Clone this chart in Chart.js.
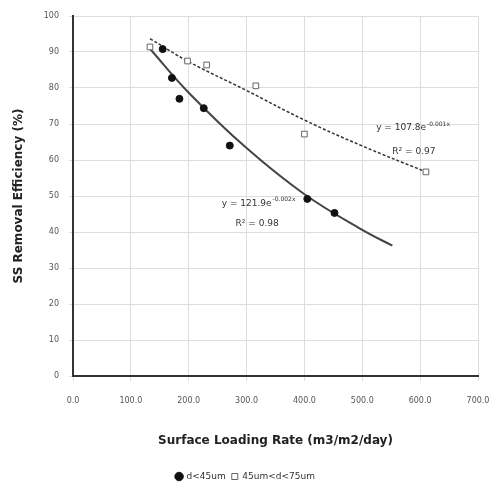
<!DOCTYPE html>
<html>
<head>
    <meta charset="UTF-8">
    <title>SS Removal Efficiency</title>
    <script src="https://cdn.jsdelivr.net/npm/chart.js@4.4.1/dist/chart.umd.min.js"></script>
    <style>
        body { margin: 0; background: #fff; }
        #wrap { width: 491px; height: 485px; }
    </style>
</head>
<body>
    <div id="wrap"><canvas id="myChart" width="491" height="485"></canvas></div>
    <script type="text/javascript">
        // measured points, d<45um (filled circles)
        var fineX = [155, 171, 184, 226, 271, 405, 452];
        var fineY = [90.8, 82.8, 77.0, 74.4, 64.0, 49.2, 45.3];

        // measured points, 45um<d<75um (open squares)
        var coarseX = [133, 198, 231, 316, 400, 610];
        var coarseY = [91.4, 87.5, 86.4, 80.6, 67.2, 56.7];

        // points
        var fineTrendX = [133, 200, 300, 400, 500, 552];
        var fineTrendY = [90.9, 78.7, 63.3, 50.5, 40.6, 36.2];
        var coarseTrendX = [133, 200, 300, 400, 500, 610];
        var coarseTrendY = [93.7, 87.3, 79.3, 71.1, 63.9, 56.7];

        var xTicks = [0, 100, 200, 300, 400, 500, 600, 700];
        var yTicks = [0, 10, 20, 30, 40, 50, 60, 70, 80, 90, 100];

        function pairs(xs, ys) {
            var out = [];
            for (var i = 0; i < xs.length; i++) out.push({ x: xs[i], y: ys[i] });
            return out;
        }

        // trend equations written next to the curves
        var trendNotes = [
            { x: 524, y: 68.9, base: "y = 107.8e", sup: "-0.001x" },
            { x: 552, y: 62.3, base: "R\u00b2 = 0.97", sup: "" },
            { x: 257, y: 48.0, base: "y = 121.9e", sup: "-0.002x" },
            { x: 281, y: 42.3, base: "R\u00b2 = 0.98", sup: "" }
        ];

        var notesPlugin = {
            id: "notes",
            afterDatasetsDraw: function (chart) {
                var ctx = chart.ctx;
                var xs = chart.scales.x, ys = chart.scales.y;
                ctx.save();
                ctx.fillStyle = "#333";
                ctx.textBaseline = "middle";
                ctx.textAlign = "left";
                trendNotes.forEach(function (n) {
                    var px = xs.getPixelForValue(n.x);
                    var py = ys.getPixelForValue(n.y);
                    ctx.font = "9px 'DejaVu Sans'";
                    ctx.fillText(n.base, px, py);
                    if (n.sup) {
                        var w = ctx.measureText(n.base).width;
                        ctx.font = "6px 'DejaVu Sans'";
                        ctx.fillText(n.sup, px + w + 1, py - 4);
                    }
                });
                ctx.restore();
            }
        };

        new Chart("myChart", {
            type: "scatter",
            data: {
                datasets: [
                    {
                        label: "d<45um",
                        data: pairs(fineX, fineY),
                        pointStyle: "circle",
                        pointRadius: 3.5,
                        backgroundColor: "#111",
                        borderColor: "#111",
                        order: 1
                    },
                    {
                        label: "45um<d<75um",
                        data: pairs(coarseX, coarseY),
                        pointStyle: "rect",
                        pointRadius: 4,
                        backgroundColor: "#fff",
                        borderColor: "#666",
                        borderWidth: 1,
                        order: 1
                    },
                    {
                        label: "trend1",
                        type: "line",
                        data: pairs(fineTrendX, fineTrendY),
                        borderColor: "#444",
                        borderWidth: 2,
                        pointRadius: 0,
                        tension: 0.4,
                        fill: false,
                        order: 2
                    },
                    {
                        label: "trend2",
                        type: "line",
                        data: pairs(coarseTrendX, coarseTrendY),
                        borderColor: "#333",
                        borderWidth: 1.5,
                        borderDash: [3, 2],
                        pointRadius: 0,
                        tension: 0.4,
                        fill: false,
                        order: 2
                    }
                ]
            },
            options: {
                responsive: false,
                animation: false,
                layout: { padding: { left: 0, right: 0, top: 16, bottom: -6 } },
                plugins: {
                    legend: {
                        position: "bottom",
                        labels: {
                            usePointStyle: true,
                            boxWidth: 6,
                            boxHeight: 6,
                            padding: 6,
                            color: "#333",
                            font: { family: "'DejaVu Sans'", size: 9 },
                            filter: function (item) { return item.text.indexOf("trend") !== 0; }
                        }
                    },
                    tooltip: { enabled: false }
                },
                scales: {
                    x: {
                        type: "linear",
                        min: 0,
                        max: 700,
                        afterBuildTicks: function (s) { s.ticks = xTicks.map(function (v) { return { value: v }; }); },
                        afterFit: function (s) { s.height = 90; s.paddingRight = 13; },
                        ticks: {
                            color: "#555",
                            padding: 15,
                            font: { family: "'DejaVu Sans'", size: 8 },
                            callback: function (v) { return Number(v).toFixed(1); }
                        },
                        grid: { color: "#ddd", tickLength: 5 },
                        border: { color: "#333", width: 2 },
                        title: {
                            display: true,
                            text: "Surface Loading Rate (m3/m2/day)",
                            color: "#222",
                            font: { family: "'DejaVu Sans'", size: 12, weight: "bold" },
                            padding: { top: 0, bottom: 18 }
                        }
                    },
                    y: {
                        type: "linear",
                        min: 0,
                        max: 100,
                        afterBuildTicks: function (s) { s.ticks = yTicks.map(function (v) { return { value: v }; }); },
                        afterFit: function (s) { s.width = 73; },
                        ticks: {
                            color: "#555",
                            padding: 10,
                            font: { family: "'DejaVu Sans'", size: 8 }
                        },
                        grid: { color: "#ddd", tickLength: 4 },
                        border: { color: "#333", width: 2 },
                        title: {
                            display: true,
                            text: "SS Removal Efficiency (%)",
                            color: "#222",
                            font: { family: "'DejaVu Sans'", size: 12, weight: "bold" },
                            padding: { top: 12, bottom: 0 }
                        }
                    }
                }
            },
            plugins: [notesPlugin]
        });
    </script>
</body>
</html>
